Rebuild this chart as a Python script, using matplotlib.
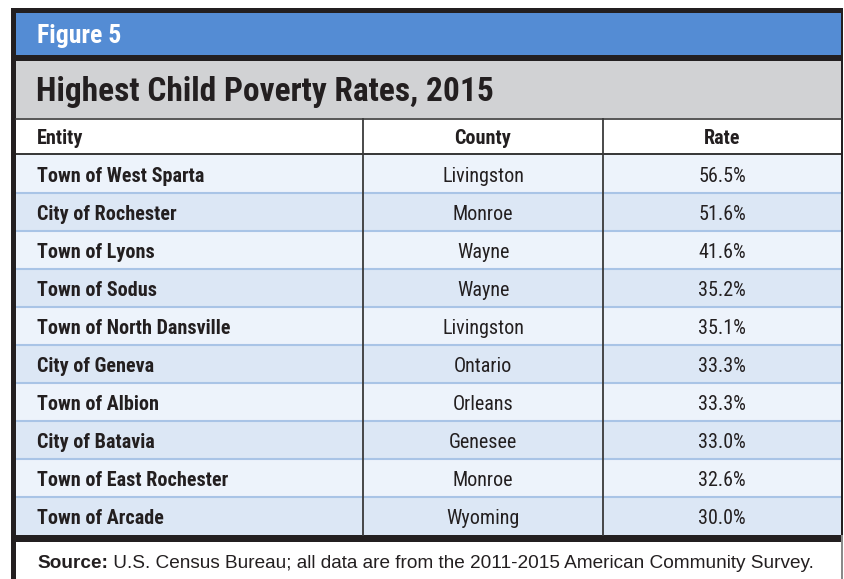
import matplotlib
matplotlib.use('Agg')
import matplotlib.pyplot as plt
from matplotlib.patches import Rectangle

# Dados da tabela
entities = ['Town of West Sparta', 'City of Rochester', 'Town of Lyons', 'Town of Sodus',
            'Town of North Dansville', 'City of Geneva', 'Town of Albion', 'City of Batavia',
            'Town of East Rochester', 'Town of Arcade']
counties = ['Livingston', 'Monroe', 'Wayne', 'Wayne', 'Livingston', 'Ontario', 'Orleans',
            'Genesee', 'Monroe', 'Wyoming']
rates = [56.5, 51.6, 41.6, 35.2, 35.1, 33.3, 33.3, 33.0, 32.6, 30.0]
headers = ['Entity', 'County', 'Rate']

figure_label = 'Figure 5'
title = 'Highest Child Poverty Rates, 2015'
source_bold = 'Source:'
source_text = ' U.S. Census Bureau; all data are from the 2011-2015 American Community Survey.'

cond = ['Roboto Condensed', 'Archivo Narrow', 'Liberation Sans Narrow', 'DejaVu Sans']
plain = ['Liberation Sans', 'DejaVu Sans']
plt.rcParams['font.family'] = cond

W, H = 845, 579
fig = plt.figure(figsize=(W / 100, H / 100), dpi=100)
ax = fig.add_axes([0, 0, 1, 1])
ax.set_xlim(0, W)
ax.set_ylim(H, 0)
ax.axis('off')

dark = '#231f20'
blue = '#548cd4'
gray = '#d1d2d4'
row_light = '#edf3fb'
row_dark = '#dce7f5'
sep_blue = '#a9c4e6'

L, R = 16, 841
col1, col2 = 363, 603
row_top, row_h = 155, 38
n = len(entities)
table_bottom = row_top + row_h * n

# faixa azul e cinza do topo
ax.add_patch(Rectangle((L, 13), R - L, 42, color=blue, lw=0))
ax.add_patch(Rectangle((L, 61), R - L, 57, color=gray, lw=0))
ax.add_patch(Rectangle((L, 119), R - L, 34, color='white', lw=0))

# linhas da tabela
for i in range(n):
    y0 = row_top + i * row_h
    c = row_light if i % 2 == 0 else row_dark
    ax.add_patch(Rectangle((L, y0), R - L, row_h, color=c, lw=0))
    if i > 0:
        ax.plot([L, R], [y0, y0], color=sep_blue, lw=1.5, solid_capstyle='butt')

# bordas escuras
ax.add_patch(Rectangle((11, 8), 832, 5, color=dark, lw=0))
ax.add_patch(Rectangle((11, 55), 832, 6, color=dark, lw=0))
ax.plot([L, R], [118.5, 118.5], color='#3a3a3a', lw=1.2)
ax.add_patch(Rectangle((L, 153), R - L, 2.2, color='#3a3a3a', lw=0))
ax.add_patch(Rectangle((11, table_bottom), 832, 7, color=dark, lw=0))
ax.add_patch(Rectangle((11, 8), 5, H - 8, color=dark, lw=0))
ax.add_patch(Rectangle((R, 8), 2, table_bottom - 8, color=dark, lw=0))
ax.add_patch(Rectangle((R, table_bottom), 2, H - table_bottom, color='#8a8a8a', lw=0))
for x in (col1, col2):
    ax.plot([x, x], [119, table_bottom], color='#3a3a3a', lw=1.3)

# textos
ax.text(37, 43, figure_label, color='white', fontsize=18.5, fontweight='bold', va='baseline')
ax.text(36, 101, title, color=dark, fontsize=24, fontweight='bold', va='baseline')

hy = 144
fs = 14.5
ax.text(37, hy, headers[0], fontsize=fs, fontweight='bold', va='baseline', color=dark)
ax.text((col1 + col2) / 2, hy, headers[1], fontsize=fs, fontweight='bold', va='baseline', ha='center', color=dark)
ax.text((col2 + R) / 2, hy, headers[2], fontsize=fs, fontweight='bold', va='baseline', ha='center', color=dark)

for i, (e, c, r) in enumerate(zip(entities, counties, rates)):
    yb = row_top + i * row_h + 27.5
    ax.text(37, yb, e, fontsize=fs, fontweight='bold', va='baseline', color=dark)
    ax.text((col1 + col2) / 2, yb, c, fontsize=fs, va='baseline', ha='center', color=dark)
    ax.text((col2 + R) / 2, yb, f'{r:.1f}%', fontsize=fs, va='baseline', ha='center', color=dark)

sb = ax.text(37, 568, source_bold, fontsize=13.7, fontweight='bold', va='baseline', color=dark, family=plain)
ax.annotate(source_text, xy=(1, 0), xycoords=sb, va='bottom', ha='left', fontsize=13.7, color=dark, family=plain)

fig.savefig('out.png', dpi=100)
